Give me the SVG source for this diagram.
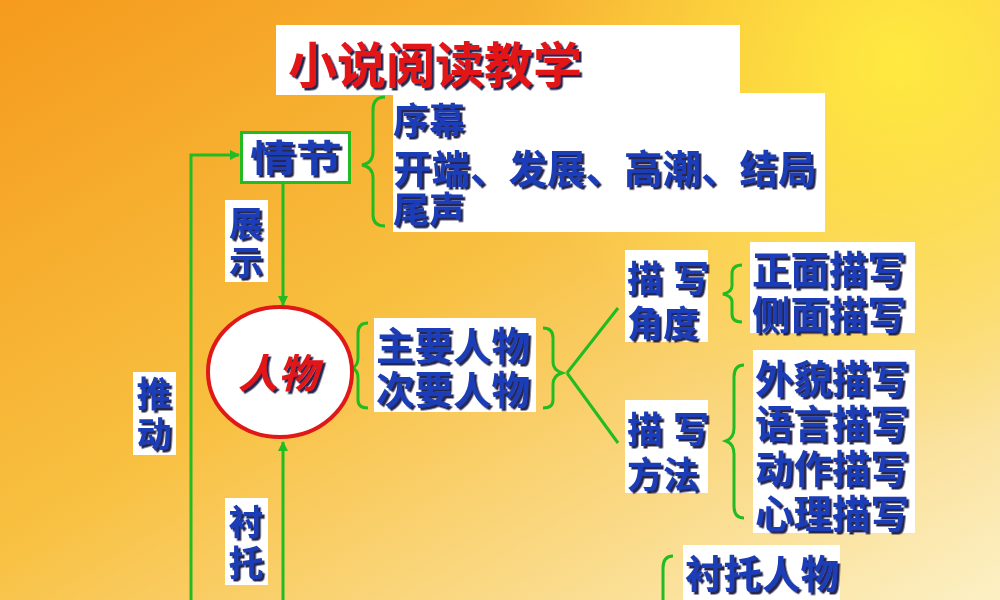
<svg xmlns="http://www.w3.org/2000/svg" width="1000" height="600" viewBox="0 0 1000 600">
<defs>
<linearGradient id="bg" x1="0" y1="0" x2="1" y2="1">
<stop offset="0" stop-color="#f59a1c"/>
<stop offset="0.45" stop-color="#f8c040"/>
<stop offset="1" stop-color="#fcf0c4"/>
</linearGradient>
<radialGradient id="hl" cx="900" cy="60" r="380" gradientUnits="userSpaceOnUse">
<stop offset="0" stop-color="#ffea40" stop-opacity="1"/>
<stop offset="1" stop-color="#ffe040" stop-opacity="0"/>
</radialGradient>
<filter id="sh" x="-10%" y="-10%" width="130%" height="130%">
<feDropShadow dx="2.5" dy="2.5" stdDeviation="0.6" flood-color="#0a0a3a" flood-opacity="0.9"/>
</filter>
<marker id="ah" markerWidth="10" markerHeight="10" refX="9" refY="5" orient="auto" markerUnits="userSpaceOnUse">
<path d="M0,0 L10,5 L0,10 Z" fill="#22bb22"/>
</marker>
<style>
.box{fill:#ffffff}
.t{font-family:"Liberation Sans","Noto Sans CJK SC","Noto Sans CJK JP",sans-serif;font-weight:bold;fill:#1b3cb8;filter:url(#sh)}
.r{font-family:"Liberation Sans","Noto Sans CJK SC","Noto Sans CJK JP",sans-serif;font-weight:bold;fill:#e21414;filter:url(#sh)}
.ln{fill:none;stroke:#22bb22;stroke-width:3}
</style>
</defs>
<rect width="1000" height="600" fill="url(#bg)"/>
<rect width="1000" height="600" fill="url(#hl)"/>

<g id="connectors">
<path class="ln" d="M191,600 L191,155 L239,155" marker-end="url(#ah)"/>
<path class="ln" d="M283,184 L283,305" marker-end="url(#ah)"/>
<path class="ln" d="M283,600 L283,442" marker-end="url(#ah)"/>
<path class="ln" d="M567,373 L618,308 M567,373 L618,443"/>
<path class="ln" d="M385,97 Q373,97 373,110 L373,152 Q373,163 362,165 Q373,167 373,178 L373,215 Q373,226 385,226"/>
<path class="ln" d="M368,323 Q358,323 358,333 L358,358 Q358,366 352,368 Q358,370 358,378 L358,400 Q358,408 368,408"/>
<path class="ln" d="M543,328 Q553,328 553,338 L553,362 Q553,370 562,373 Q553,376 553,384 L553,400 Q553,408 543,408"/>
<path class="ln" d="M742,265 Q732,265 732,274 L732,286 Q732,292 723,294 Q732,296 732,302 L732,314 Q732,322 742,322"/>
<path class="ln" d="M744,365 Q734,365 734,377 L734,428 Q734,438 726,441 Q734,444 734,454 L734,506 Q734,518 744,518"/>
<path class="ln" d="M673,556 Q663,556 663,568 L663,600"/>
</g>

<g id="title">
<rect class="box" x="276" y="25" width="464" height="70"/>
<text class="r" x="288" y="83" font-size="49" fill="#e81010">小说阅读教学</text>
</g>

<g id="plot-items">
<rect class="box" x="393" y="93" width="432" height="139"/>
<text class="t" x="393" y="134" font-size="36">序幕</text>
<text class="t" x="393" y="183" font-size="38.5">开端、发展、高潮、结局</text>
<text class="t" x="393" y="223" font-size="36">尾声</text>
</g>

<g id="plot">
<rect x="241.5" y="132.5" width="108" height="50" fill="#fff" stroke="#22bb22" stroke-width="3"/>
<text class="t" x="250" y="172" font-size="37" textLength="92" lengthAdjust="spacingAndGlyphs">情节</text>
</g>

<g id="show">
<rect class="box" x="225" y="200" width="43" height="82"/>
<text class="t" x="246" y="236" font-size="34" text-anchor="middle">展</text>
<text class="t" x="246" y="275" font-size="34" text-anchor="middle">示</text>
</g>

<g id="push">
<rect class="box" x="133" y="372" width="43" height="83"/>
<text class="t" x="154" y="407" font-size="35" text-anchor="middle">推</text>
<text class="t" x="154" y="447" font-size="35" text-anchor="middle">动</text>
</g>

<g id="foil">
<rect class="box" x="225" y="498" width="43" height="87"/>
<text class="t" x="246" y="535" font-size="35" text-anchor="middle">衬</text>
<text class="t" x="246" y="576" font-size="35" text-anchor="middle">托</text>
</g>

<g id="character">
<ellipse cx="280" cy="372" rx="72" ry="65" fill="#fff" stroke="#e01818" stroke-width="4"/>
<text class="r" x="278" y="388" font-size="40" font-style="italic" text-anchor="middle">人物</text>
</g>

<g id="roles">
<rect class="box" x="374" y="318" width="162" height="94"/>
<text class="t" x="376" y="360" font-size="38.5">主要人物</text>
<text class="t" x="376" y="404" font-size="38.5">次要人物</text>
</g>

<g id="angle">
<rect class="box" x="625" y="250" width="83" height="92"/>
<text class="t" x="627" y="292" font-size="36">描 写</text>
<text class="t" x="627" y="337" font-size="36">角度</text>
</g>

<g id="method">
<rect class="box" x="625" y="400" width="83" height="93"/>
<text class="t" x="627" y="443" font-size="36">描 写</text>
<text class="t" x="627" y="488" font-size="36">方法</text>
</g>

<g id="angle-items">
<rect class="box" x="750" y="242" width="165" height="91"/>
<text class="t" x="752" y="284" font-size="38.5">正面描写</text>
<text class="t" x="752" y="329" font-size="38.5">侧面描写</text>
</g>

<g id="method-items">
<rect class="box" x="753" y="350" width="162" height="183"/>
<text class="t" x="755" y="393" font-size="38.5">外貌描写</text>
<text class="t" x="755" y="438" font-size="38.5">语言描写</text>
<text class="t" x="755" y="483" font-size="38.5">动作描写</text>
<text class="t" x="755" y="528" font-size="38.5">心理描写</text>
</g>

<g id="foil-items">
<rect class="box" x="683" y="545" width="157" height="60"/>
<text class="t" x="685" y="588" font-size="38.5">衬托人物</text>
</g>
</svg>
